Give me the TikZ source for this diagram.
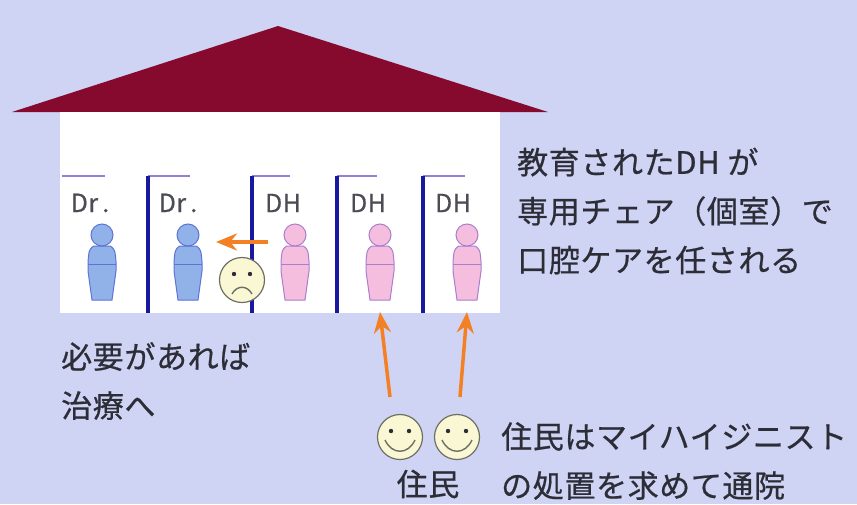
\documentclass[tikz,border=0pt]{standalone}
\usepackage{fontspec}
\newfontfamily\jp{Noto Sans CJK JP}[LetterSpace=2, FakeBold=0.6]
\usetikzlibrary{arrows.meta}

\definecolor{backdrop}{RGB}{207,212,244}
\definecolor{roof}{RGB}{134,10,46}
\definecolor{wallblue}{RGB}{25,25,160}
\definecolor{railpurple}{RGB}{150,125,215}
\definecolor{drfill}{RGB}{145,178,232}
\definecolor{drline}{RGB}{95,115,215}
\definecolor{dhfill}{RGB}{245,190,222}
\definecolor{dhline}{RGB}{170,125,205}
\definecolor{facefill}{RGB}{250,248,212}
\definecolor{facerim}{RGB}{110,110,100}
\definecolor{referral}{RGB}{244,128,36}
\definecolor{ink}{RGB}{45,45,55}

\begin{document}
\begin{tikzpicture}[
    x=1pt, y=-1pt,
    note/.style={anchor=west, align=left, text=ink, inner sep=0pt, font=\jp\fontsize{31}{49}\selectfont},
    tag/.style={text=ink!85, inner sep=0pt, font=\jp\fontsize{25}{25}\selectfont},
    wall/.style={draw=wallblue, line width=4pt},
    rail/.style={draw=railpurple, line width=1.8pt},
    arrow/.style={draw=referral, line width=3.5pt, -{Stealth[length=21pt, width=17pt]}},
    face/.style={circle, draw=facerim, fill=facefill, line width=1.2pt, minimum size=45pt, inner sep=0pt},
    pics/person/.style 2 args={code={
        \filldraw[fill=#1, draw=#2, line width=1pt] (-8.5,11) .. controls (-13,15) .. (-14,27)
            -- (-14,36) -- (-10,65) -- (10,65) -- (14,36) -- (14,27)
            .. controls (13,15) .. (8.5,11) -- cycle;
        \draw[#2, line width=1pt] (-14,29) -- (14,29);
        \filldraw[fill=#1, draw=#2, line width=1pt] (0,0) circle (11);
        \coordinate (-base) at (0,77);
    }},
    pics/smiley/.style={code={
        \node[face] (-disc) {};
        \fill[ink] (-9,-6) circle (2.2) (9,-6) circle (2.2);
        \draw[facerim, line width=1.4pt] (-15,3) .. controls (-8,18) and (8,18) .. (15,3);
    }},
    pics/frown/.style={code={
        \node[face] (-disc) {};
        \fill[ink] (-8,-6) circle (2.2) (8,-6) circle (2.2);
        \draw[facerim, line width=1.4pt] (-10,14) .. controls (-5,5) and (5,5) .. (10,14);
    }}
]
    \fill[backdrop] (0,0) rectangle (857,504);
    \useasboundingbox (0,0) rectangle (857,504);

    % house
    \fill[roof] (12,112) -- (278,26) -- (548,112) -- cycle;
    \fill[white] (60,112) rectangle (500,313);

    % booths
    \foreach \a/\b in {62/105,148/190,252/290,337/377,423/465}
        \draw[rail] (\a,176) -- (\b,176);
    \foreach \x in {148,252,337,423}
        \draw[wall] (\x,176) -- (\x,313);

    \node[tag] (dr1-tag) at (90,203) {Dr\,.};
    \node[tag] (dr2-tag) at (178,203) {Dr\,.};
    \node[tag] (dh1-tag) at (283,203) {DH};
    \node[tag] (dh2-tag) at (368,203) {DH};
    \node[tag] (dh3-tag) at (453,203) {DH};

    \pic (dr1) at (102,235) {person={drfill}{drline}};
    \pic (dr2) at (188,235) {person={drfill}{drline}};
    \pic (dh1) at (295,235) {person={dhfill}{dhline}};
    \pic (dh2) at (380,235) {person={dhfill}{dhline}};
    \pic (dh3) at (467,235) {person={dhfill}{dhline}};

    % patient sent on to the doctor
    \pic (patient) at (242,280) {frown};
    \coordinate (refer-from) at (268,242);
    \coordinate (refer-to) at (216,242);
    \draw[arrow] (refer-from) -- (refer-to);

    % residents
    \pic (res1) at (400,437) {smiley};
    \pic (res2) at (457,437) {smiley};
    \coordinate (walk1) at (390,397);
    \coordinate (walk2) at (460,397);
    \draw[arrow] (walk1) -- (dh2-base);
    \draw[arrow] (walk2) -- (dh3-base);

    % captions
    \node[note] (duty) at (517,211) {教育されたDH が\\専用チェア（個室）で\\口腔ケアを任される};
    \node[note] (referral) at (61,381) {必要があれば\\治療へ};
    \node[note] (visit) at (501,461) {住民はマイハイジニスト\\の処置を求めて通院};
    \node[text=ink, inner sep=0pt, font=\jp\fontsize{31}{31}\selectfont] (residents) at (428,484) {住民};
\end{tikzpicture}
\end{document}
